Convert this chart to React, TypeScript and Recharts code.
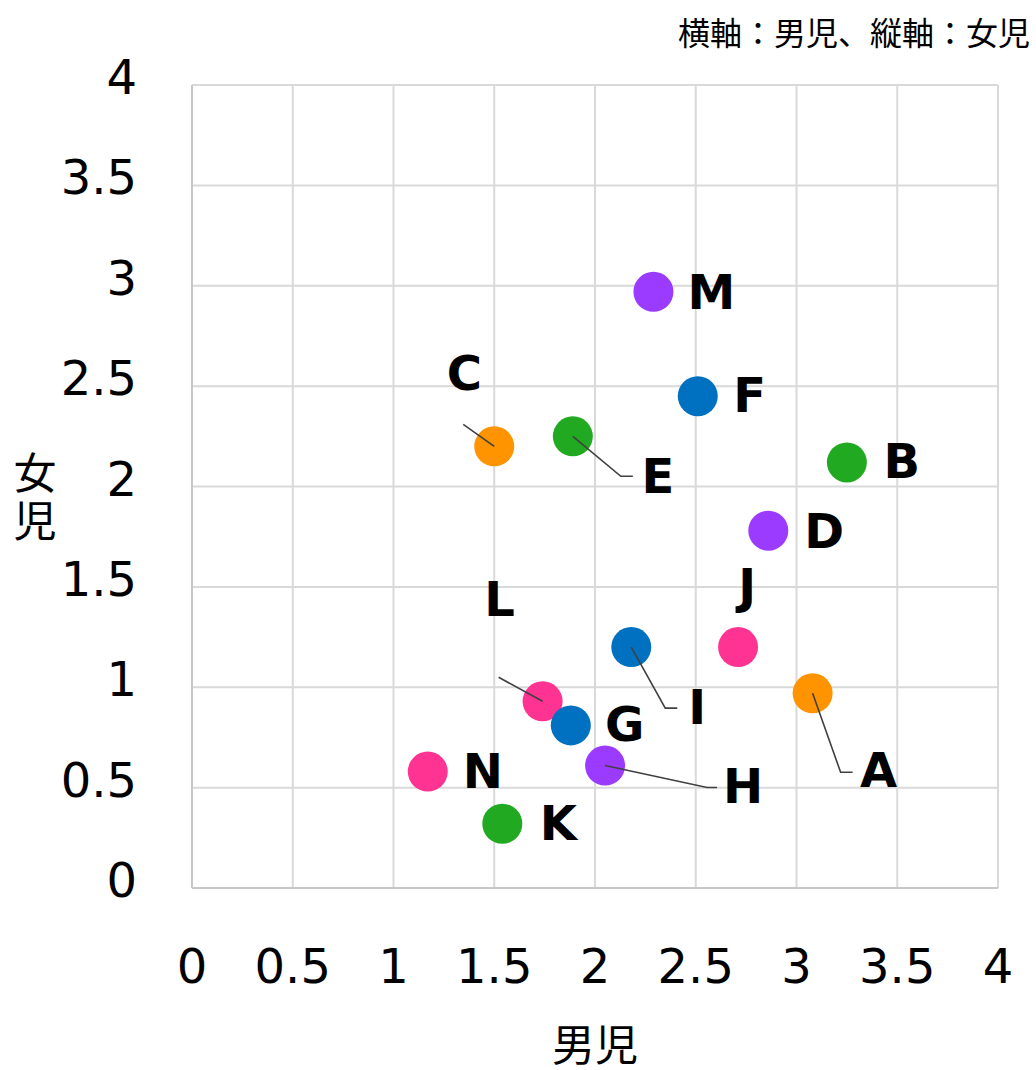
import { ScatterChart, Scatter, XAxis, YAxis, CartesianGrid } from 'recharts';

// point names and values (boys on x, girls on y)
const NAMES = ['A', 'B', 'C', 'D', 'E', 'F', 'G', 'H', 'I', 'J', 'K', 'L', 'M', 'N'];
const BOYS = [3.08, 3.25, 1.5, 2.86, 1.89, 2.51, 1.88, 2.05, 2.18, 2.71, 1.54, 1.74, 2.29, 1.17];
const GIRLS = [0.97, 2.12, 2.2, 1.78, 2.25, 2.45, 0.81, 0.61, 1.2, 1.2, 0.32, 0.93, 2.97, 0.58];
const GROUPS = ['orange', 'green', 'orange', 'purple', 'green', 'blue', 'blue', 'purple', 'blue', 'pink', 'green', 'pink', 'purple', 'pink'];
const TICKS = [0, 0.5, 1, 1.5, 2, 2.5, 3, 3.5, 4];

const GROUP_COLORS: Record<string, string> = {
  orange: '#FF9300',
  green: '#22A922',
  purple: '#9A3BFF',
  pink: '#FF3392',
  blue: '#0070C0',
};
// drawing order: blue last so G sits over L
const GROUP_ORDER = ['orange', 'green', 'purple', 'pink', 'blue'];

// label placement relative to the point centre (text centre x, baseline y) + leader line
const LABEL_POS: Record<string, { dx: number; dy: number; leader?: number[][] }> = {
  A: { dx: 66, dy: 94, leader: [[0, 0], [28, 79], [40, 79]] },
  B: { dx: 55, dy: 16 },
  C: { dx: -30, dy: -56, leader: [[0, 0], [-31, -22]] },
  D: { dx: 56, dy: 17 },
  E: { dx: 85, dy: 57, leader: [[0, 0], [48, 40], [60, 40]] },
  F: { dx: 52, dy: 16 },
  G: { dx: 54, dy: 16 },
  H: { dx: 138, dy: 37, leader: [[0, 0], [102, 22], [112, 22]] },
  I: { dx: 66, dy: 77, leader: [[0, 0], [34, 61], [46, 61]] },
  J: { dx: 9, dy: -44 },
  K: { dx: 56, dy: 16 },
  L: { dx: -43, dy: -85, leader: [[0, 0], [-44, -24]] },
  M: { dx: 58, dy: 17 },
  N: { dx: 55, dy: 16 },
};

const points = NAMES.map((name, i) => ({ name, x: BOYS[i], y: GIRLS[i], group: GROUPS[i] }));

const LATIN = '"DejaVu Sans", Verdana, sans-serif';
const CJK = '"Noto Sans CJK JP", "Noto Sans", sans-serif';

function Dot(props: any) {
  const { cx, cy, payload } = props;
  if (cx == null || cy == null) return null;
  return <circle cx={cx} cy={cy} r={20} fill={GROUP_COLORS[payload.group]} />;
}

function PointLabel(props: any) {
  const { cx, cy, payload } = props;
  if (cx == null || cy == null) return null;
  const pos = LABEL_POS[payload.name];
  return (
    <g>
      {pos.leader && (
        <polyline
          points={pos.leader.map(([a, b]) => `${cx + a},${cy + b}`).join(' ')}
          fill="none"
          stroke="#404040"
          strokeWidth={1.6}
        />
      )}
      <text
        x={cx + pos.dx}
        y={cy + pos.dy}
        textAnchor="middle"
        fontFamily={LATIN}
        fontWeight="bold"
        fontSize={48}
        fill="#000"
      >
        {payload.name}
      </text>
    </g>
  );
}

function XTick(props: any) {
  const { x, y, payload } = props;
  return (
    <text x={x} y={y + 87} textAnchor="middle" fontFamily={LATIN} fontSize={48} fill="#000">
      {payload.value}
    </text>
  );
}

function YTick(props: any) {
  const { y, payload } = props;
  return (
    <text x={137} y={y + 9} textAnchor="end" fontFamily={LATIN} fontSize={48} fill="#000">
      {payload.value}
    </text>
  );
}

export default function App() {
  return (
    <div style={{ position: 'absolute', left: 0, top: 0, width: 1036, height: 1070, background: '#fff' }}>
      <ScatterChart width={1036} height={1070} margin={{ top: 85, right: 38, bottom: 0, left: 0 }}>
        <CartesianGrid stroke="#D9D9D9" strokeWidth={2} />
        <XAxis
          type="number"
          dataKey="x"
          domain={[0, 4]}
          ticks={TICKS}
          interval={0}
          height={182}
          tickLine={false}
          axisLine={{ stroke: '#C8C8C8', strokeWidth: 2 }}
          tick={<XTick />}
        />
        <YAxis
          type="number"
          dataKey="y"
          domain={[0, 4]}
          ticks={TICKS}
          interval={0}
          width={192}
          tickLine={false}
          axisLine={{ stroke: '#C8C8C8', strokeWidth: 2 }}
          tick={<YTick />}
        />
        {GROUP_ORDER.map((g) => (
          <Scatter
            key={g}
            data={points.filter((p) => p.group === g)}
            shape={<Dot />}
            isAnimationActive={false}
          />
        ))}
        <Scatter data={points} shape={<PointLabel />} isAnimationActive={false} />
        <text x={1030} y={45} textAnchor="end" fontFamily={CJK} fontSize={32} fill="#000">
          横軸：男児、縦軸：女児
        </text>
        <text x={595} y={1061} textAnchor="middle" fontFamily={CJK} fontSize={43} fill="#000">
          男児
        </text>
        <text x={35} y={489} textAnchor="middle" fontFamily={CJK} fontSize={43} fill="#000">
          女
        </text>
        <text x={35} y={537} textAnchor="middle" fontFamily={CJK} fontSize={43} fill="#000">
          児
        </text>
      </ScatterChart>
    </div>
  );
}
